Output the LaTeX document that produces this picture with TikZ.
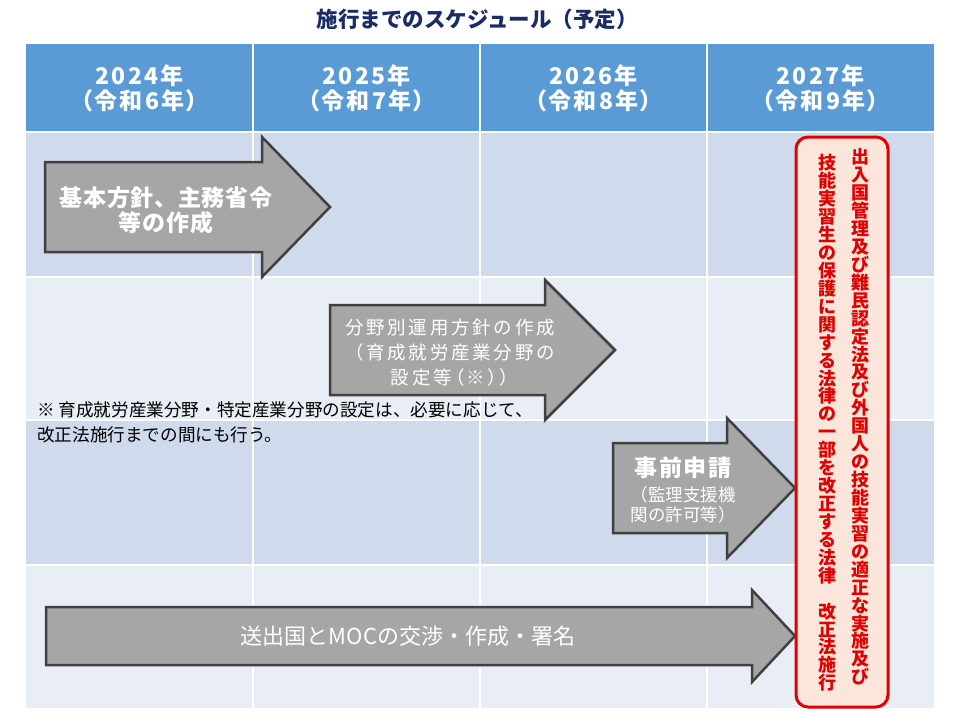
\documentclass[tikz,border=0pt]{standalone}
\usepackage{fontspec}
\setmainfont{Noto Sans CJK JP}
\newfontfamily\jp{Noto Sans CJK JP}
\newfontfamily\jphd[LetterSpace=9,RawFeature=+palt]{Noto Sans CJK JP}
\newfontfamily\jpa[LetterSpace=3]{Noto Sans CJK JP}
\newfontfamily\jpb[LetterSpace=15]{Noto Sans CJK JP}
\newfontfamily\jpbp[LetterSpace=15,RawFeature=+palt]{Noto Sans CJK JP}
\newfontfamily\jpc[LetterSpace=6]{Noto Sans CJK JP}
\definecolor{hdr}{HTML}{5B9BD5}
\definecolor{rowA}{HTML}{CFDAEC}
\definecolor{rowB}{HTML}{E9EDF5}
\definecolor{arrF}{HTML}{A6A6A6}
\definecolor{arrD}{HTML}{404040}
\definecolor{navy}{HTML}{1A2C66}
\definecolor{redB}{HTML}{E00000}
\definecolor{pinkF}{HTML}{FCE6DC}
\tikzset{
  arrowshape/.style={fill=arrF,draw=arrD,line width=2.5,line join=miter},
  gridline/.style={white,line width=1.5},
  hdtext/.style={text=white,font=\jphd\bfseries\fontsize{23}{26}\selectfont,inner sep=0},
  redcol/.style={text=redB,align=center,font=\jp\bfseries\fontsize{18}{17.93}\selectfont,inner sep=0},
}
\begin{document}
\begin{tikzpicture}[x=1pt,y=-1pt]
\useasboundingbox[fill=white] (0,0) rectangle (960,720);
% title
\node[text=navy,font=\jp\bfseries\fontsize{21.5}{24}\selectfont,inner sep=0] (title) at (477,19) {施行までのスケジュール（予定）};
% table
\fill[hdr] (26,44) rectangle (934,131);
\fill[rowA] (26,132) rectangle (934,277);
\fill[rowB] (26,277) rectangle (934,420);
\fill[rowA] (26,420) rectangle (934,565);
\fill[rowB] (26,565) rectangle (934,708);
\foreach \x in {253,480,707} \draw[gridline] (\x,44) -- (\x,708);
\foreach \y in {132,277,420,565} \draw[gridline] (26,\y) -- (934,\y);
% headers
\node[hdtext] (y1a) at (139.5,76) {2024年};
\node[hdtext] (y1b) at (139.5,101) {（令和6年）};
\node[hdtext] (y2a) at (366.5,76) {2025年};
\node[hdtext] (y2b) at (366.5,101) {（令和7年）};
\node[hdtext] (y3a) at (593.5,76) {2026年};
\node[hdtext] (y3b) at (593.5,101) {（令和8年）};
\node[hdtext] (y4a) at (820.5,76) {2027年};
\node[hdtext] (y4b) at (820.5,101) {（令和9年）};
% arrows
\draw[arrowshape] (45,162) -- (262,162) -- (262,137) -- (330,207) -- (262,277) -- (262,252) -- (45,252) -- cycle;
\draw[arrowshape] (330,305) -- (545,305) -- (545,280) -- (615,350) -- (545,420) -- (545,395) -- (330,395) -- cycle;
\draw[arrowshape] (613,443) -- (727,443) -- (727,418) -- (795,488) -- (727,558) -- (727,533) -- (613,533) -- cycle;
\draw[arrowshape] (46,607) -- (752,607) -- (752,590) -- (795,636) -- (752,682) -- (752,665) -- (46,665) -- cycle;
% arrow texts
\node[text=white,align=center,inner sep=0,font=\jpa\bfseries\fontsize{23}{25}\selectfont] (t1) at (166,210) {基本方針、主務省令\\等の作成};
\node[text=white,align=center,inner sep=0,font=\jpb\fontsize{18.5}{25}\selectfont] (t2) at (450,353) {分野別運用方針の作成\\（育成就労産業分野の\\{\jpbp 設定等（※））}};
\node[text=white,inner sep=0,font=\jpc\bfseries\fontsize{23}{25}\selectfont] (t3a) at (683,468) {事前申請};
\node[text=white,align=center,inner sep=0,font=\jp\fontsize{17.5}{20}\selectfont] (t3b) at (683,505) {（監理支援機\\関の許可等）};
\node[text=white,inner sep=0,font=\jp\fontsize{22}{25}\selectfont] (t4) at (408,636) {送出国とMOCの交渉・作成・署名};
% note
\node[anchor=west,align=left,inner sep=0,font=\jp\fontsize{17.6}{25}\selectfont] (note) at (37,422) {※ 育成就労産業分野・特定産業分野の設定は、必要に応じて、\\改正法施行までの間にも行う。};
% red box
\draw[fill=pinkF,draw=redB,line width=3,rounded corners=12] (796,137) rectangle (888,707);
\node[redcol] (lawR) at (860,417) {出\\入\\国\\管\\理\\及\\び\\難\\民\\認\\定\\法\\及\\び\\外\\国\\人\\の\\技\\能\\実\\習\\の\\適\\正\\な\\実\\施\\及\\び};
\node[redcol] (lawL) at (827,423) {技\\能\\実\\習\\生\\の\\保\\護\\に\\関\\す\\る\\法\\律\\の\\一\\部\\を\\改\\正\\す\\る\\法\\律\\　\\改\\正\\法\\施\\行};
\end{tikzpicture}
\end{document}
